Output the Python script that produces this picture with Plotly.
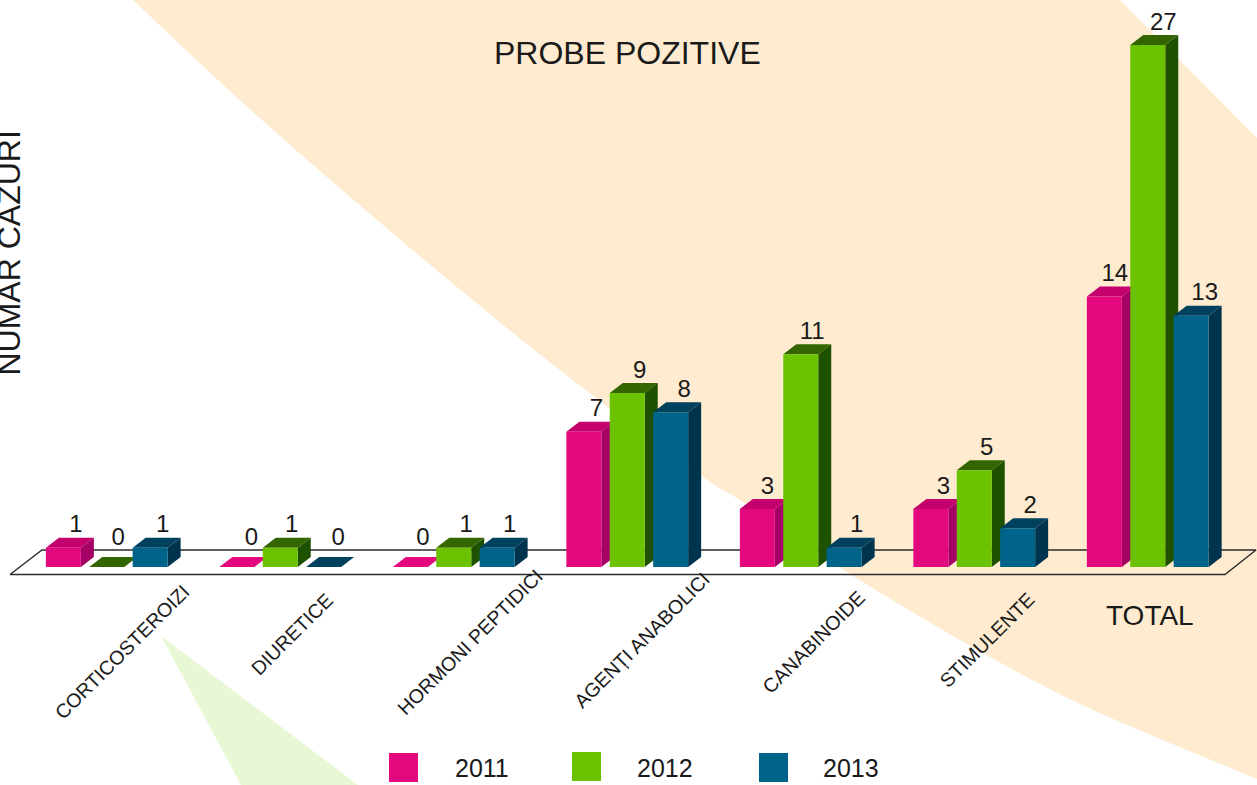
import plotly.graph_objects as go

categories = ["CORTICOSTEROIZI", "DIURETICE", "HORMONI PEPTIDICI", "AGENȚI ANABOLICI", "CANABINOIDE", "STIMULENTE", "TOTAL"]
years = ["2011", "2012", "2013"]
values_2011 = [1, 0, 0, 7, 3, 3, 14]
values_2012 = [0, 1, 1, 9, 11, 5, 27]
values_2013 = [1, 0, 1, 8, 1, 2, 13]
front_colors = ["#E2097F", "#6BC200", "#00648A"]
top_colors = ["#C4006F", "#336600", "#00415E"]
side_colors = ["#A50066", "#1F5200", "#00334E"]
flat_colors = ["#E2097F", "#336600", "#00415E"]
label_nudges = [[0, 2, 0, 0, -2.5, 0, -2], [-1, -1, 0, 0, -1, 0, 3], [0, 2, 0, 1, 0, 0, 1]]

W, H = 1257, 785
GROUP_PX, PITCH_PX, BAR_PX = 173.5, 43.4, 35.0
X0_PX = 106.75
Y0_PX, UNIT_PX = 567.0, 19.33
DX_PX, DY_PX = 13.0, 10.0
FONT = "Liberation Sans"
INK = "#1a1a1a"

x_range = [-X0_PX / GROUP_PX, (W - X0_PX) / GROUP_PX]
y_range = [(Y0_PX - H) / UNIT_PX, Y0_PX / UNIT_PX]
dx, dy = DX_PX / GROUP_PX, DY_PX / UNIT_PX
pitch, bar_w = PITCH_PX / GROUP_PX, BAR_PX / GROUP_PX

def px_x(v):
    return v / W

def px_y(v):
    return 1 - v / H

fig = go.Figure()

# floor
fx = [(10 - X0_PX) / GROUP_PX, (1225 - X0_PX) / GROUP_PX, (1256 - X0_PX) / GROUP_PX, (42 - X0_PX) / GROUP_PX, (10 - X0_PX) / GROUP_PX]
fy = [(Y0_PX - 574.5) / UNIT_PX, (Y0_PX - 574.5) / UNIT_PX, (Y0_PX - 550) / UNIT_PX, (Y0_PX - 550) / UNIT_PX, (Y0_PX - 574.5) / UNIT_PX]
fig.add_trace(go.Scatter(x=fx, y=fy, mode="lines", line=dict(color="#2b2b2b", width=1.4), hoverinfo="skip", showlegend=False, zorder=0))

for s, vals in enumerate([values_2011, values_2012, values_2013]):
    off = (s - 1) * pitch
    for i, v in enumerate(vals):
        l, r = i + off - bar_w / 2, i + off + bar_w / 2
        fig.add_trace(go.Scatter(
            x=[l, r, r + dx, l + dx, l], y=[v, v, v + dy, v + dy, v],
            mode="lines", fill="toself", line=dict(width=0),
            fillcolor=flat_colors[s] if v == 0 else top_colors[s],
            hoverinfo="skip", showlegend=False, zorder=2 * s + 1))
        if v > 0:
            fig.add_trace(go.Scatter(
                x=[r, r + dx, r + dx, r, r], y=[0, dy, v + dy, v, 0],
                mode="lines", fill="toself", line=dict(width=0),
                fillcolor=side_colors[s], hoverinfo="skip", showlegend=False, zorder=2 * s + 1))
    fig.add_trace(go.Bar(
        x=[i + off for i in range(len(vals))], y=vals, width=bar_w, name=years[s],
        marker=dict(color=front_colors[s], line=dict(width=0)),
        hoverinfo="skip", showlegend=False, zorder=2 * s + 2))
    fig.add_trace(go.Scatter(
        x=[i + off + (12.5 + label_nudges[s][i]) / GROUP_PX for i in range(len(vals))],
        y=[v + (21.5 if v else 28) / UNIT_PX for v in vals],
        text=[str(v) for v in vals], mode="text", textposition="middle center",
        textfont=dict(family=FONT, size=24, color=INK),
        hoverinfo="skip", showlegend=False, zorder=20))

# decorative background: smooth lower-left edge through sampled points (Catmull-Rom)
edge = [(133, 0), (243, 103), (363, 208), (463, 292), (570, 378), (700, 475), (746, 504), (853, 576), (984, 653.5), (1091, 709), (1257, 779)]
path = f"M {px_x(edge[0][0])},{px_y(edge[0][1])}"
for k in range(len(edge) - 1):
    p0 = edge[max(k - 1, 0)]
    p1 = edge[k]
    p2 = edge[k + 1]
    p3 = edge[min(k + 2, len(edge) - 1)]
    c1 = (p1[0] + (p2[0] - p0[0]) / 6, p1[1] + (p2[1] - p0[1]) / 6)
    c2 = (p2[0] - (p3[0] - p1[0]) / 6, p2[1] - (p3[1] - p1[1]) / 6)
    path += f" C {px_x(c1[0])},{px_y(c1[1])} {px_x(c2[0])},{px_y(c2[1])} {px_x(p2[0])},{px_y(p2[1])}"
path += f" L {px_x(1257)},{px_y(138)} L {px_x(1120)},{px_y(0)} Z"
shapes = [
    dict(type="path", xref="paper", yref="paper", path=path, fillcolor="#FEEBD0", line=dict(width=0), layer="below"),
    dict(type="path", xref="paper", yref="paper",
         path=f"M {px_x(161)},{px_y(636)} L {px_x(241)},{px_y(785)} L {px_x(358)},{px_y(785)} Z",
         fillcolor="#E8F8D4", line=dict(width=0), layer="below"),
]

annotations = []
def note(text, x, y, size, angle=0):
    annotations.append(dict(text=text, xref="paper", yref="paper", x=px_x(x), y=px_y(y),
                            xanchor="center", yanchor="middle", showarrow=False, textangle=angle,
                            font=dict(family=FONT, size=size, color=INK)))

note("PROBE POZITIVE", 627.5, 53, 32)
note("NUMAR CAZURI", 8, 253.5, 32, -90)
label_pos = [(122, 652), (292, 634), (470, 642), (642, 640), (813.5, 642), (987, 640)]
for name, (a, b) in zip(categories[:6], label_pos):
    note(name, a, b, 19.6, -45)
note(categories[6], 1149.5, 615, 28)

for s, (lx, ly, tx) in enumerate([(389, 753, 481.5), (572, 752, 664.5), (759, 753, 851)]):
    shapes.append(dict(type="rect", xref="paper", yref="paper", x0=px_x(lx), x1=px_x(lx + 29),
                       y0=px_y(ly + 29), y1=px_y(ly), fillcolor=front_colors[s], line=dict(width=0)))
    note(years[s], tx, 768, 25)

fig.update_layout(
    width=W, height=H, margin=dict(l=0, r=0, t=0, b=0),
    paper_bgcolor="white", plot_bgcolor="rgba(0,0,0,0)",
    xaxis=dict(range=x_range, visible=False, fixedrange=True),
    yaxis=dict(range=y_range, visible=False, fixedrange=True),
    barmode="overlay", shapes=shapes, annotations=annotations,
    showlegend=False,
)
fig.write_html("out.html", config=dict(displayModeBar=False),
               post_script="document.body.style.margin='0';document.documentElement.style.overflow='hidden';")
